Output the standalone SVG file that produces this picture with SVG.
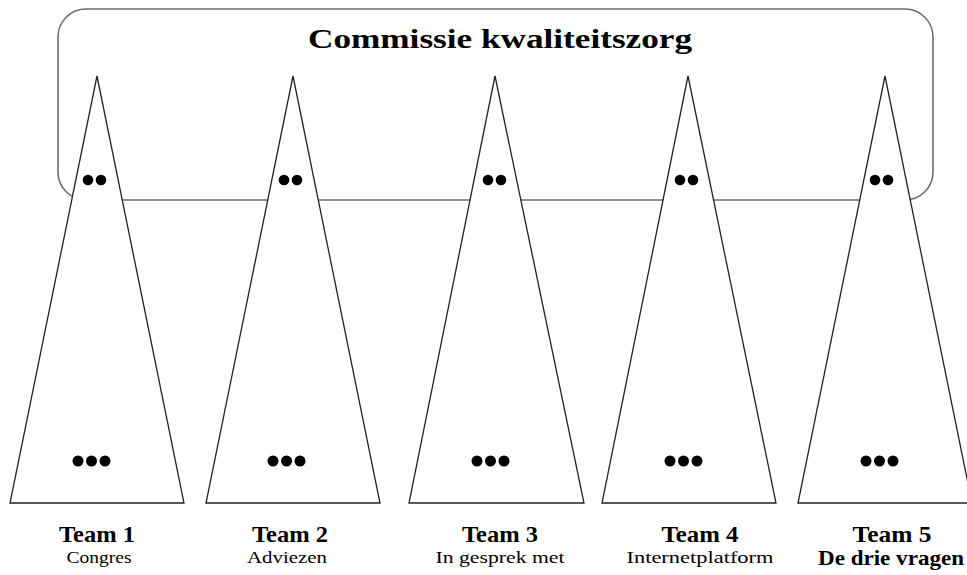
<svg xmlns="http://www.w3.org/2000/svg" width="967" height="575" viewBox="0 0 967 575">
<style>
.frame{fill:#fff;stroke:#6e6e6e;stroke-width:1.6}
.tri{fill:#fff;stroke:#222;stroke-width:1.3;stroke-linejoin:miter}
.dot{fill:#000}
.title{font-family:"Liberation Serif","Times New Roman",serif;font-weight:bold;font-size:28px;fill:#000;text-anchor:middle}
.team{font-family:"Liberation Serif","Times New Roman",serif;font-weight:bold;font-size:23px;fill:#000;text-anchor:middle}
.sub{font-family:"Liberation Serif","Times New Roman",serif;font-size:17px;fill:#000;text-anchor:middle}
.subb{font-family:"Liberation Serif","Times New Roman",serif;font-weight:bold;font-size:22px;fill:#000;text-anchor:middle}
</style>
<rect width="967" height="575" fill="#fff"/>
<g id="commissie">
<rect class="frame" x="58" y="9" width="875" height="191" rx="28" ry="28"/>
<text class="title" x="500" y="48" textLength="384" lengthAdjust="spacingAndGlyphs">Commissie kwaliteitszorg</text>
</g>
<g id="connectors"></g>
<g id="team1">
<polygon class="tri" points="97,76 10,503 184,503"/>
<circle class="dot" cx="88" cy="180" r="5.3"/><circle class="dot" cx="101" cy="180" r="5.3"/>
<circle class="dot" cx="78" cy="461" r="5.5"/><circle class="dot" cx="91.5" cy="461" r="5.5"/><circle class="dot" cx="105" cy="461" r="5.5"/>
<text class="team" x="97" y="542" textLength="76" lengthAdjust="spacingAndGlyphs">Team 1</text>
<text class="sub" x="99" y="563" textLength="65" lengthAdjust="spacingAndGlyphs">Congres</text>
</g>
<g id="team2">
<polygon class="tri" points="293,76 206,503 380,503"/>
<circle class="dot" cx="284" cy="180" r="5.3"/><circle class="dot" cx="297" cy="180" r="5.3"/>
<circle class="dot" cx="273" cy="461" r="5.5"/><circle class="dot" cx="286.5" cy="461" r="5.5"/><circle class="dot" cx="300" cy="461" r="5.5"/>
<text class="team" x="290" y="542" textLength="76" lengthAdjust="spacingAndGlyphs">Team 2</text>
<text class="sub" x="287" y="563" textLength="80" lengthAdjust="spacingAndGlyphs">Adviezen</text>
</g>
<g id="team3">
<polygon class="tri" points="495,76 409,503 584,503"/>
<circle class="dot" cx="488" cy="180" r="5.3"/><circle class="dot" cx="501" cy="180" r="5.3"/>
<circle class="dot" cx="477" cy="461" r="5.5"/><circle class="dot" cx="490.5" cy="461" r="5.5"/><circle class="dot" cx="504" cy="461" r="5.5"/>
<text class="team" x="500" y="542" textLength="76" lengthAdjust="spacingAndGlyphs">Team 3</text>
<text class="sub" x="500" y="563" textLength="129" lengthAdjust="spacingAndGlyphs">In gesprek met</text>
</g>
<g id="team4">
<polygon class="tri" points="688,76 602,503 776,503"/>
<circle class="dot" cx="680" cy="180" r="5.3"/><circle class="dot" cx="693" cy="180" r="5.3"/>
<circle class="dot" cx="670" cy="461" r="5.5"/><circle class="dot" cx="683.5" cy="461" r="5.5"/><circle class="dot" cx="697" cy="461" r="5.5"/>
<text class="team" x="700" y="542" textLength="77" lengthAdjust="spacingAndGlyphs">Team 4</text>
<text class="sub" x="700" y="563" textLength="147" lengthAdjust="spacingAndGlyphs">Internetplatform</text>
</g>
<g id="team5">
<polygon class="tri" points="885,76 798,503 972,503"/>
<circle class="dot" cx="875" cy="180" r="5.3"/><circle class="dot" cx="888" cy="180" r="5.3"/>
<circle class="dot" cx="866" cy="461" r="5.5"/><circle class="dot" cx="879.5" cy="461" r="5.5"/><circle class="dot" cx="893" cy="461" r="5.5"/>
<text class="team" x="892" y="542" textLength="79" lengthAdjust="spacingAndGlyphs">Team 5</text>
<text class="subb" x="891" y="565" textLength="146" lengthAdjust="spacingAndGlyphs">De drie vragen</text>
</g>
</svg>
